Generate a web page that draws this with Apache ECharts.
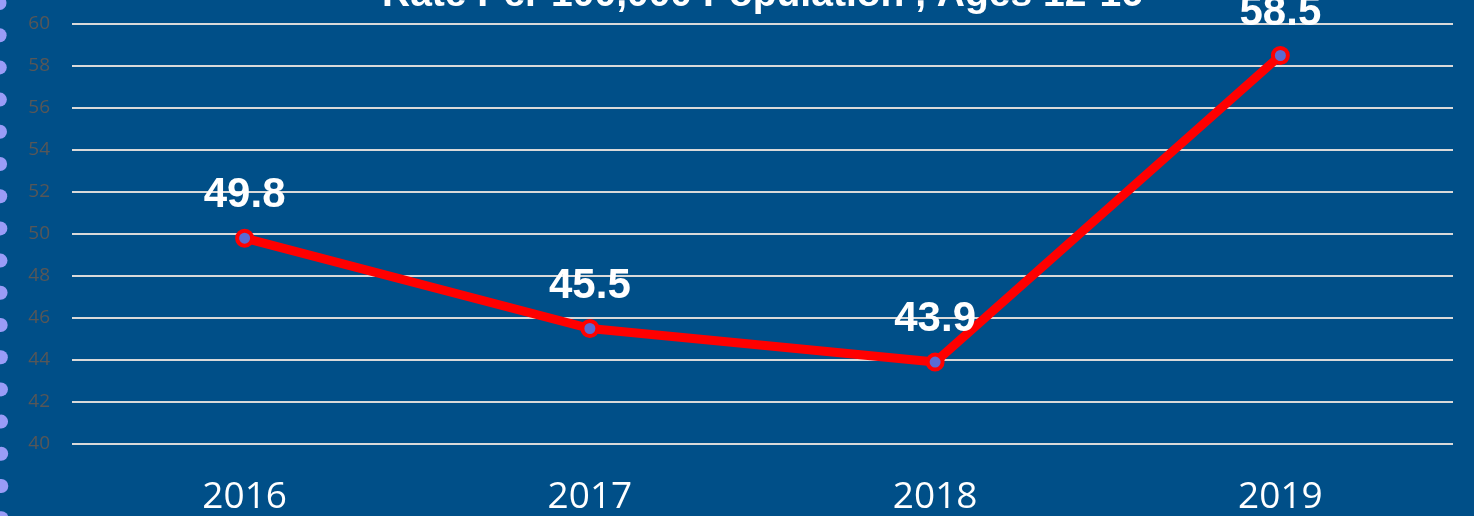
<!DOCTYPE html>
<html>
<head>
<meta charset="utf-8">
<script src="https://cdn.jsdelivr.net/npm/echarts@6/dist/echarts.min.js"></script>
<style>
  html, body { margin: 0; padding: 0; background: #004f88; }
  #chart { width: 1474px; height: 516px; }
</style>
</head>
<body>
<div id="chart"></div>
<script>
// Rate per 100,000 population, ages 12-16, by year
const years = ['2016', '2017', '2018', '2019'];
const rates = [49.8, 45.5, 43.9, 58.5];
const yMin = 40;
const yMax = 60;
const yStep = 2;
const titleText = 'Rate Per 100,000 Population , Ages 12-16';

const chart = echarts.init(document.getElementById('chart'));

// decorative column of dots along the left edge
const dots = [];
for (let i = 0; i < 17; i++) {
  dots.push({
    type: 'circle',
    shape: { cx: -0.5 + i * 0.12, cy: 3 + i * 32.2, r: 7 },
    style: { fill: '#9a9cf7' },
    silent: true
  });
}

chart.setOption({
  backgroundColor: '#004f88',
  animation: false,
  title: {
    text: titleText,
    left: 377,
    top: -29,
    textStyle: {
      color: '#ffffff',
      fontFamily: 'Liberation Sans',
      fontWeight: 'bold',
      fontSize: 39
    }
  },
  graphic: dots,
  grid: { left: 72, right: 21, top: 24, bottom: 71 },
  xAxis: {
    type: 'category',
    data: years,
    boundaryGap: true,
    axisLine: { show: false },
    axisTick: { show: false },
    axisLabel: {
      color: '#ffffff',
      fontFamily: 'Open Sans',
      fontSize: 37,
      margin: 35
    }
  },
  yAxis: {
    type: 'value',
    min: yMin,
    max: yMax,
    interval: yStep,
    axisLine: { show: false },
    axisTick: { show: false },
    axisLabel: {
      color: '#575757',
      fontFamily: 'Open Sans',
      fontSize: 19,
      margin: 22
    },
    splitLine: { lineStyle: { color: '#d9d9d9', width: 2 } }
  },
  series: [{
    type: 'line',
    data: rates,
    symbol: 'circle',
    symbolSize: 15,
    lineStyle: { color: '#ff0000', width: 9 },
    itemStyle: { color: '#5b6bd2', borderColor: '#ff0000', borderWidth: 4 },
    label: {
      show: true,
      position: 'top',
      distance: 12,
      color: '#ffffff',
      fontFamily: 'Liberation Sans',
      fontWeight: 'bold',
      fontSize: 42,
      formatter: p => p.value.toFixed(1)
    },
    z: 3
  }]
});
</script>
</body>
</html>
